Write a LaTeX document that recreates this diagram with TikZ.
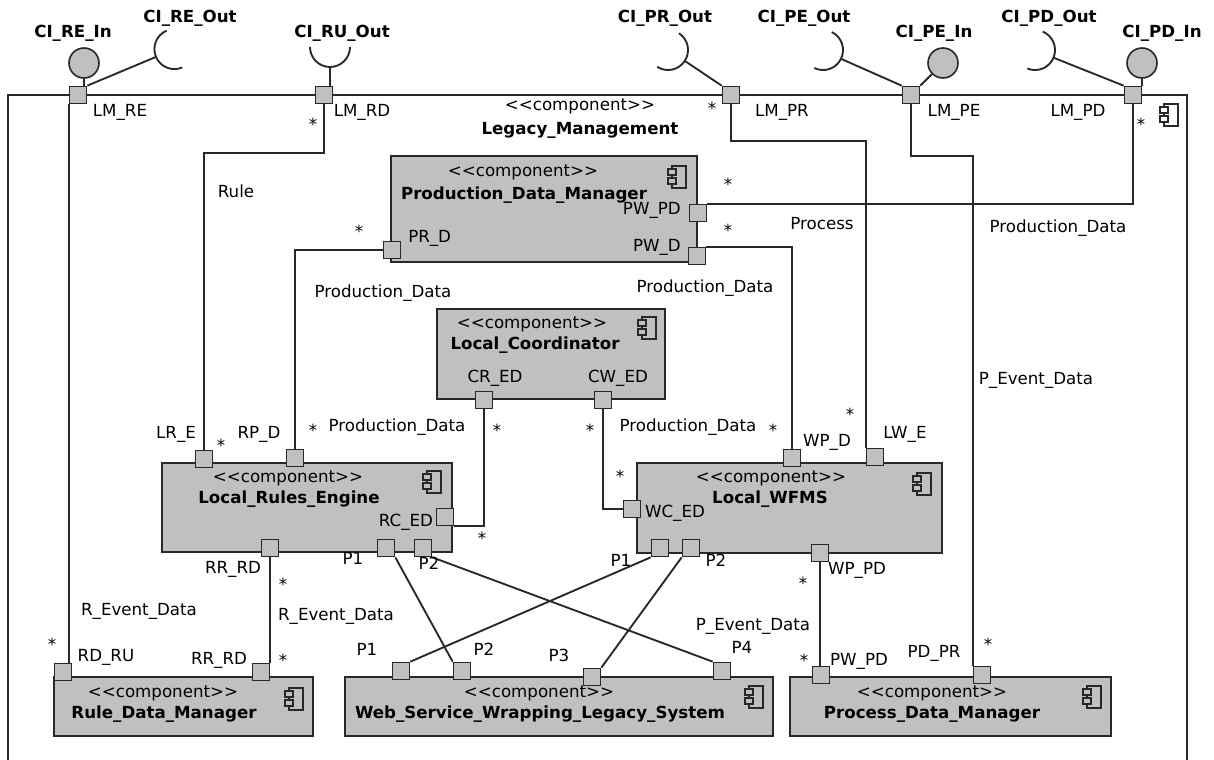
\documentclass[tikz,border=0pt]{standalone}
\usepackage{fontspec}
\setmainfont{DejaVu Sans}
\usetikzlibrary{fit}
\definecolor{compgray}{RGB}{192,192,192}
\definecolor{wiregray}{RGB}{40,40,40}
\newcommand{\compstereo}{<\kern0pt<component>\kern0pt>}
\begin{document}
\begin{tikzpicture}[x=0.75pt,y=0.75pt,yscale=-1,xscale=1,
    font=\fontsize{12.5}{15}\selectfont,
    wire/.style={draw=wiregray, line width=1.4pt},
    compbox/.style={draw=wiregray, fill=compgray, line width=1.2pt, inner sep=0pt},
    port/.style={draw=wiregray, fill=compgray, line width=1pt, minimum size=13pt, inner sep=0pt},
    ball/.style={circle, draw=wiregray, fill=compgray, line width=1.2pt, minimum size=22.5pt, inner sep=0pt},
    lbl/.style={inner sep=0pt, text height=0.73em, text depth=0pt},
    cname/.style={lbl, font=\fontsize{12.5}{15}\selectfont\bfseries},
    mult/.style={inner sep=0pt, text height=1.12em, text depth=0pt},
    pics/compicon/.style={code={
        \draw[wiregray, line width=0.8pt, fill=#1] (-6,-11) rectangle (8,11);
        \draw[wiregray, line width=0.8pt, fill=#1] (-10,-7) rectangle (-2,-1);
        \draw[wiregray, line width=0.8pt, fill=#1] (-10,2) rectangle (-2,8);
    }}]
\useasboundingbox (0,0) rectangle (1214,760);

% outer component
\draw[wire] (8,760) -- (8,95) -- (1187,95) -- (1187,760);
\pic at (1170,115) {compicon=white};
\node[lbl] (LMst) at (580,106) {\compstereo};
\node[cname] (LMname) at (580,130) {Legacy\_Management};

% inner components
\node[compbox, fit={(391,156) (697,262)}] (PDM) {};
\node[compbox, fit={(437,309) (665,399)}] (LC) {};
\node[compbox, fit={(162,463) (452,552)}] (LRE) {};
\node[compbox, fit={(637,463) (942,553)}] (WF) {};
\node[compbox, fit={(54,677) (313,736)}] (RDM) {};
\node[compbox, fit={(345,677) (773,736)}] (WS) {};
\node[compbox, fit={(790,677) (1111,736)}] (PM) {};

\node[lbl] (PDMst) at (523,172) {\compstereo};
\node[cname] (PDMname) at (524,195) {Production\_Data\_Manager};
\pic at (678,177) {compicon=compgray};
\node[lbl] (LCst) at (532,324) {\compstereo};
\node[cname] (LCname) at (535,345) {Local\_Coordinator};
\pic at (648,328) {compicon=compgray};
\node[lbl] (LREst) at (288,478) {\compstereo};
\node[cname] (LREname) at (289,499) {Local\_Rules\_Engine};
\pic at (433,482) {compicon=compgray};
\node[lbl] (WFst) at (771,478) {\compstereo};
\node[cname] (WFname) at (770,499) {Local\_WFMS};
\pic at (923,484) {compicon=compgray};
\node[lbl] (RDMst) at (163,693) {\compstereo};
\node[cname] (RDMname) at (164,714) {Rule\_Data\_Manager};
\pic at (295,699) {compicon=compgray};
\node[lbl] (WSst) at (539,693) {\compstereo};
\node[cname] (WSname) at (540,714) {Web\_Service\_Wrapping\_Legacy\_System};
\pic at (755,697) {compicon=compgray};
\node[lbl] (PMst) at (932,693) {\compstereo};
\node[cname] (PMname) at (932,714) {Process\_Data\_Manager};
\pic at (1093,697) {compicon=compgray};

% ports
\node[port] (LMre) at (78,95) {};
\node[port] (LMrd) at (324,95) {};
\node[port] (LMpr) at (731,95) {};
\node[port] (LMpe) at (911,95) {};
\node[port] (LMpd) at (1133,95) {};
\node[port] (PDMpwpd) at (698,213) {};
\node[port] (PDMpwd) at (697,256) {};
\node[port] (PDMprd) at (392,250) {};
\node[port] (LCcr) at (484,400) {};
\node[port] (LCcw) at (603,400) {};
\node[port] (LREle) at (204,459) {};
\node[port] (LRErp) at (295,458) {};
\node[port] (LRErc) at (445,517) {};
\node[port] (LRErr) at (270,548) {};
\node[port] (LREp1) at (386,548) {};
\node[port] (LREp2) at (423,548) {};
\node[port] (WFwp) at (792,458) {};
\node[port] (WFlw) at (875,457) {};
\node[port] (WFwc) at (632,509) {};
\node[port] (WFp1) at (660,548) {};
\node[port] (WFp2) at (691,548) {};
\node[port] (WFwppd) at (820,553) {};
\node[port] (RDMru) at (63,672) {};
\node[port] (RDMrr) at (261,672) {};
\node[port] (WSp1) at (401,671) {};
\node[port] (WSp2) at (462,671) {};
\node[port] (WSp3) at (592,677) {};
\node[port] (WSp4) at (722,671) {};
\node[port] (PMpw) at (821,675) {};
\node[port] (PMpr) at (982,675) {};

% provided and required interfaces
\node[ball] (CIREin) at (84,63) {};
\node[ball] (CIPEin) at (943,63) {};
\node[ball] (CIPDin) at (1142,63) {};
\draw[wire] (CIREin) -- (CIREin |- LMre.north);
\draw[wire] (CIPEin) -- (LMpe.north east);
\draw[wire] (CIPDin) -- (CIPDin |- LMpd.north);
\coordinate (CIREout) at (156,56.9);
\coordinate (CIRUout) at (330,67);
\coordinate (CIPRout) at (684.8,60.9);
\coordinate (CIPEout) at (841,58.8);
\coordinate (CIPDout) at (1053.5,57.7);
\draw[wire] (LMre.north east) -- (CIREout);
\draw[wire] (CIRUout) -- (CIRUout |- LMrd.north);
\draw[wire] (LMpr.north west) -- (CIPRout);
\draw[wire] (LMpe.north west) -- (CIPEout);
\draw[wire] (LMpd.north west) -- (CIPDout);
\draw[wire] (CIREout) arc[start angle=157, end angle=247, radius=20] (CIREout) arc[start angle=157, end angle=67, radius=20];
\draw[wire] (CIRUout) arc[start angle=90, end angle=180, radius=20] (CIRUout) arc[start angle=90, end angle=0, radius=20];
\draw[wire] (CIPRout) arc[start angle=33, end angle=123, radius=20] (CIPRout) arc[start angle=33, end angle=-57, radius=20];
\draw[wire] (CIPEout) arc[start angle=26, end angle=116, radius=20] (CIPEout) arc[start angle=26, end angle=-64, radius=20];
\draw[wire] (CIPDout) arc[start angle=22.5, end angle=112.5, radius=20] (CIPDout) arc[start angle=22.5, end angle=-67.5, radius=20];
\node[cname] (tCIREin) at (73,33) {CI\_RE\_In};
\node[cname] (tCIREout) at (190,18) {CI\_RE\_Out};
\node[cname] (tCIRUout) at (342,33) {CI\_RU\_Out};
\node[cname] (tCIPRout) at (665,18) {CI\_PR\_Out};
\node[cname] (tCIPEout) at (804,18) {CI\_PE\_Out};
\node[cname] (tCIPEin) at (934,33) {CI\_PE\_In};
\node[cname] (tCIPDout) at (1049,18) {CI\_PD\_Out};
\node[cname] (tCIPDin) at (1162,33) {CI\_PD\_In};

% delegation and assembly connectors
\draw[wire] (LMre.south west) -- (LMre.south west |- RDMru.north);
\draw[wire] (LMrd.south) -- (LMrd.south |- 0,153) -| (LREle.north);
\draw[wire] (LMpr.south) -- (LMpr.south |- 0,141) -| (WFlw.north west);
\draw[wire] (LMpe.south) -- (LMpe.south |- 0,156) -| (PMpr.north west);
\draw[wire] (LMpd.south) |- (PDMpwpd.north east);
\draw[wire] (PDMprd.west) -| (LRErp.north);
\draw[wire] (PDMpwd.north east) -| (WFwp.north);
\draw[wire] (LCcr.south) |- (LRErc.south east);
\draw[wire] (LCcw.south) |- (WFwc.west);
\draw[wire] (LRErr.south) -- (LRErr.south |- RDMrr.north);
\draw[wire] (WFwppd.south) -- (WFwppd.south |- PMpw.north);
\draw[wire] (LREp1.south east) -- (WSp2.north west);
\draw[wire] (LREp2.south east) -- (WSp4.north west);
\draw[wire] (WFp1.south west) -- (WSp1.north east);
\draw[wire] (WFp2.south west) -- (WSp3.north east);

% port labels
\node[lbl] (tLMre) at (120,112) {LM\_RE};
\node[lbl] (tLMrd) at (362,112) {LM\_RD};
\node[lbl] (tLMpr) at (782,112) {LM\_PR};
\node[lbl] (tLMpe) at (954,112) {LM\_PE};
\node[lbl] (tLMpd) at (1078,112) {LM\_PD};
\node[lbl, anchor=east] (tPDMpwpd) at (681,210) {PW\_PD};
\node[lbl, anchor=east] (tPDMpwd) at (681,247) {PW\_D};
\node[lbl, anchor=west] (tPDMprd) at (408,238) {PR\_D};
\node[lbl] (tLCcr) at (495,378) {CR\_ED};
\node[lbl] (tLCcw) at (618,378) {CW\_ED};
\node[lbl] (tLREle) at (176,434) {LR\_E};
\node[lbl] (tLRErp) at (259,434) {RP\_D};
\node[lbl] (tLRErc) at (406,522) {RC\_ED};
\node[lbl] (tLRErr) at (233,569) {RR\_RD};
\node[lbl] (tLREp1) at (353,560) {P1};
\node[lbl] (tLREp2) at (429,565) {P2};
\node[lbl] (tWFwp) at (827,442) {WP\_D};
\node[lbl] (tWFlw) at (905,434) {LW\_E};
\node[lbl] (tWFwc) at (675,513) {WC\_ED};
\node[lbl] (tWFp1) at (621,562) {P1};
\node[lbl] (tWFp2) at (716,562) {P2};
\node[lbl] (tWFwppd) at (857,570) {WP\_PD};
\node[lbl] (tRDMru) at (106,657) {RD\_RU};
\node[lbl] (tRDMrr) at (219,660) {RR\_RD};
\node[lbl] (tWSp1) at (367,651) {P1};
\node[lbl] (tWSp2) at (484,651) {P2};
\node[lbl] (tWSp3) at (559,657) {P3};
\node[lbl] (tWSp4) at (742,649) {P4};
\node[lbl] (tPMpw) at (859,661) {PW\_PD};
\node[lbl] (tPMpr) at (934,653) {PD\_PR};

% connector labels
\node[lbl] (tRule) at (236,193) {Rule};
\node[lbl] (tProcess) at (822,225) {Process};
\node[lbl] (tPDright) at (1058,228) {Production\_Data};
\node[lbl] (tPEright) at (1036,380) {P\_Event\_Data};
\node[lbl] (tPDleft) at (383,293) {Production\_Data};
\node[lbl] (tPDmid) at (705,288) {Production\_Data};
\node[lbl] (tPDlre) at (397,427) {Production\_Data};
\node[lbl] (tPDwf) at (688,427) {Production\_Data};
\node[lbl] (tREleft) at (139,611) {R\_Event\_Data};
\node[lbl] (tREmid) at (336,616) {R\_Event\_Data};
\node[lbl] (tPEmid) at (753,626) {P\_Event\_Data};

% multiplicities
\node[mult] (m1) at (313,123) {*};
\node[mult] (m2) at (712,107) {*};
\node[mult] (m3) at (1141,123) {*};
\node[mult] (m4) at (359,230) {*};
\node[mult] (m5) at (728,183) {*};
\node[mult] (m6) at (728,229) {*};
\node[mult] (m7) at (221,444) {*};
\node[mult] (m8) at (313,429) {*};
\node[mult] (m9) at (497,429) {*};
\node[mult] (m10) at (482,537) {*};
\node[mult] (m11) at (590,429) {*};
\node[mult] (m12) at (620,475) {*};
\node[mult] (m13) at (773,429) {*};
\node[mult] (m14) at (850,413) {*};
\node[mult] (m15) at (283,583) {*};
\node[mult] (m16) at (283,659) {*};
\node[mult] (m17) at (52,643) {*};
\node[mult] (m18) at (803,582) {*};
\node[mult] (m19) at (804,659) {*};
\node[mult] (m20) at (988,643) {*};
\end{tikzpicture}
\end{document}
